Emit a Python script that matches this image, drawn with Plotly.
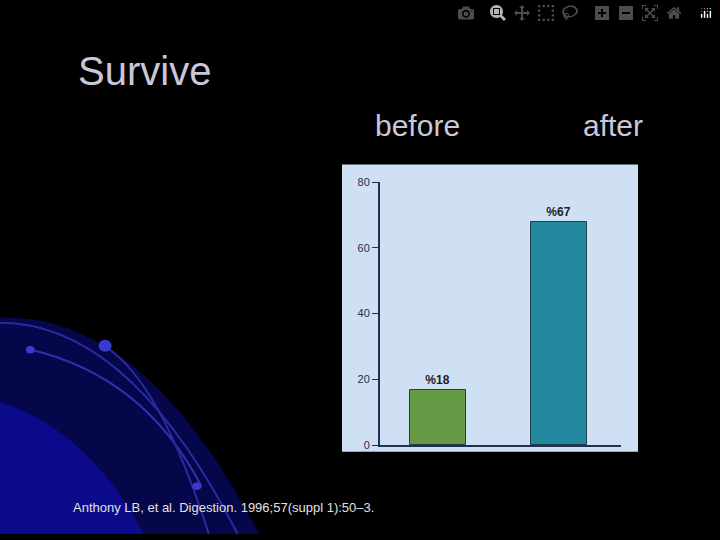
import plotly.graph_objects as go

categories = [0, 1]
values = [16.7, 67.8]
labels = ["<b>%18</b>", "<b>%67</b>"]
colors = ["#679a47", "#21889e"]
y_ticks = [0, 20, 40, 60, 80]

fig = go.Figure()
fig.add_trace(go.Bar(x=categories, y=values, width=0.46, marker=dict(color=colors, line=dict(color="#1f3f4f", width=1)),
                     text=labels, textposition="outside", textfont=dict(family="Arial", size=12, color="#222"),
                     cliponaxis=False, showlegend=False))

shapes = [
    dict(type="path", xref="paper", yref="paper", layer="below",
         path="M 0 0.41 Q 0.2 0.42 0.36 0 L 0 0 Z", fillcolor="#06064a", line=dict(width=0)),
    dict(type="path", xref="paper", yref="paper", layer="below",
         path="M 0 0.25 Q 0.12 0.2 0.2 0 L 0 0 Z", fillcolor="#0a0a8a", line=dict(width=0)),
    dict(type="path", xref="paper", yref="paper", layer="below",
         path="M 0 0.40 Q 0.18 0.40 0.33 0", line=dict(color="#2a2aa0", width=2)),
    dict(type="path", xref="paper", yref="paper", layer="below",
         path="M 0.04 0.35 Q 0.2 0.3 0.28 0.09", line=dict(color="#3030b0", width=2)),
    dict(type="path", xref="paper", yref="paper", layer="below",
         path="M 0.14 0.36 Q 0.22 0.3 0.29 0.0", line=dict(color="#2a2aa0", width=2)),
    dict(type="circle", xref="paper", yref="paper", x0=0.137, x1=0.155, y0=0.345, y1=0.368, fillcolor="#3a3ad0", line=dict(width=0)),
    dict(type="circle", xref="paper", yref="paper", x0=0.036, x1=0.048, y0=0.342, y1=0.356, fillcolor="#3a3ad0", line=dict(width=0)),
    dict(type="circle", xref="paper", yref="paper", x0=0.267, x1=0.28, y0=0.083, y1=0.098, fillcolor="#3a3ad0", line=dict(width=0)),
    dict(type="rect", xref="paper", yref="paper", layer="below",
         x0=342/720, x1=638/720, y0=(540-456)/540, y1=(540-162)/540, fillcolor="#cfe0f5", line=dict(width=0)),
]

annotations = [
    dict(text="Survive", x=76/720, y=(540-66)/540, xref="paper", yref="paper", xanchor="left", yanchor="middle",
         showarrow=False, font=dict(family="Arial", size=40, color="#c8c8d8")),
    dict(text="before", x=417/720, y=(540-122)/540, xref="paper", yref="paper", xanchor="center", yanchor="middle",
         showarrow=False, font=dict(family="Arial", size=30, color="#c8c8d8")),
    dict(text="after", x=613/720, y=(540-122)/540, xref="paper", yref="paper", xanchor="center", yanchor="middle",
         showarrow=False, font=dict(family="Arial", size=30, color="#c8c8d8")),
    dict(text="Anthony LB, et al. Digestion. 1996;57(suppl 1):50–3.", x=71/720, y=(540-513)/540, xref="paper", yref="paper",
         xanchor="left", yanchor="middle", showarrow=False, font=dict(family="Arial", size=13, color="#e0e0e0")),
]

fig.update_layout(
    width=720, height=540, margin=dict(l=0, r=0, t=0, b=0),
    paper_bgcolor="black", plot_bgcolor="rgba(0,0,0,0)",
    shapes=shapes, annotations=annotations, bargap=0,
    xaxis=dict(domain=[380/720, 621/720], range=[-0.48, 1.51], showticklabels=False, ticks="",
               showgrid=False, zeroline=False, showline=True, linecolor="#1f3050", linewidth=2),
    yaxis=dict(domain=[(540-449)/540, (540-180)/540], range=[0, 80], tickvals=y_ticks, ticks="outside",
               ticklen=6, tickcolor="#1f3050", showgrid=False, zeroline=False, showline=True, linecolor="#1f3050",
               linewidth=2, tickfont=dict(family="Arial", size=11, color="#1f3050")),
)
fig.write_html("out.html",
               post_script="document.body.style.margin='0';document.body.style.background='black';")
